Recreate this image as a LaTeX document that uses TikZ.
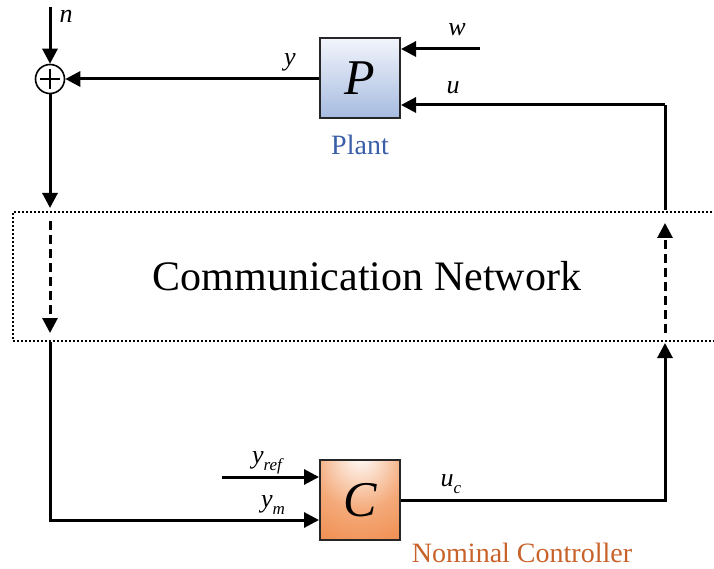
\documentclass[tikz,border=0pt]{standalone}
\usepackage{fontspec}
\setmainfont{Liberation Serif}
\usetikzlibrary{arrows.meta,shadings}
\definecolor{plantblue}{HTML}{3A5EA8}
\definecolor{ctrlorange}{HTML}{C8622A}
\definecolor{pTop}{HTML}{F2F5FB}
\definecolor{pBot}{HTML}{A6BBE0}
\definecolor{cOut}{HTML}{EE7D38}
\definecolor{cMid}{HTML}{F4AA7A}
\pgfdeclareradialshading{ctrlshade}{\pgfpoint{0bp}{30bp}}{color(0bp)=(white); color(6bp)=(white!80!cMid); color(28bp)=(cMid); color(60bp)=(cOut); color(100bp)=(cOut)}
\newcommand{\lsub}[2]{\textit{#1}\raisebox{-0.28em}{\fontsize{17}{17}\selectfont\textit{#2}}}
\tikzset{
  sig/.style={line width=3pt, -{Triangle[length=15pt,width=15pt]}},
  wire/.style={line width=3pt},
  dsig/.style={line width=3pt, dash pattern=on 9pt off 5pt, -{Triangle[length=15pt,width=15pt]}},
  blockbox/.style={draw=black!85, line width=2pt, minimum width=80pt, minimum height=80pt, inner sep=0pt},
  lbl/.style={font=\fontsize{26}{26}\selectfont\itshape, inner sep=0pt},
  captext/.style={font=\fontsize{28}{28}\selectfont, inner sep=0pt},
}
\begin{document}
\begin{tikzpicture}[x=1pt,y=-1pt]
\useasboundingbox (0,0) rectangle (714,569);
% network box
\draw[line width=2pt, dash pattern=on 2pt off 2pt] (716,212.5) -- (12.5,212.5) -- (12.5,340.5) -- (716,340.5);
\node[font=\fontsize{42}{42}\selectfont, inner sep=0pt] (net) at (367,276) {Communication Network};
% plant
\node[blockbox, top color=pTop, bottom color=pBot] (P) at (360,78) {\fontsize{50}{50}\selectfont\itshape P};
\node[captext, text=plantblue] (plantlbl) at (360,145) {Plant};
% controller
\node[blockbox, shading=ctrlshade] (C) at (360,500) {\fontsize{50}{50}\selectfont\itshape C};
\node[captext, text=ctrlorange] (ctrllbl) at (522,553) {Nominal Controller};
% sum
\node[draw, circle, line width=1.6pt, minimum size=29pt, inner sep=0pt] (sum) at (50,79) {};
\draw[line width=1.3pt] ([xshift=-10pt]sum.center) -- ([xshift=10pt]sum.center)
      ([yshift=-10pt]sum.center) -- ([yshift=10pt]sum.center);
% coordinates
\coordinate (nin) at (50,7);
\coordinate (win) at (480,49);
\coordinate (uR) at (665,105);
\coordinate (uNetTop) at (665,210);
\coordinate (uNetIn) at (665,333);
\coordinate (uNetOut) at (665,223);
\coordinate (ucR) at (665,500);
\coordinate (lNetTop) at (50,208);
\coordinate (lNetIn) at (50,221);
\coordinate (lNetOut) at (50,333);
\coordinate (lNetBot) at (50,342);
\coordinate (ymL) at (50,520);
\coordinate (yrefL) at (222,477);
% connectors
\draw[sig] (nin) -- (sum.north);
\draw[sig] (P.west |- sum.east) -- (sum.east);
\draw[sig] (win) -- (P.east |- win);
\draw[wire] (uNetTop) -- (uR);
\draw[sig] (uR) -- (P.east |- uR);
\draw[sig] (sum.south) -- (lNetTop);
\draw[dsig] (lNetIn) -- (lNetOut);
\draw[sig] (lNetBot) -- (ymL) -- (C.west |- ymL);
\draw[sig] (yrefL) -- (C.west |- yrefL);
\draw[sig] (C.east) -- (ucR) -- (665,343);
\draw[dsig] (uNetIn) -- (uNetOut);
% labels
\node[lbl] (nl) at (66,16) {n};
\node[lbl] (yl) at (290,62) {y};
\node[lbl] (wl) at (457,30) {w};
\node[lbl] (ul) at (453,88) {u};
\node[lbl, font=\fontsize{26}{26}\selectfont] (yrefl) at (268,463) {\lsub{y}{ref}};
\node[lbl, font=\fontsize{26}{26}\selectfont] (yml) at (273,505) {\lsub{y}{m}};
\node[lbl, font=\fontsize{26}{26}\selectfont] (ucl) at (451,484) {\lsub{u}{c}};
\end{tikzpicture}
\end{document}
